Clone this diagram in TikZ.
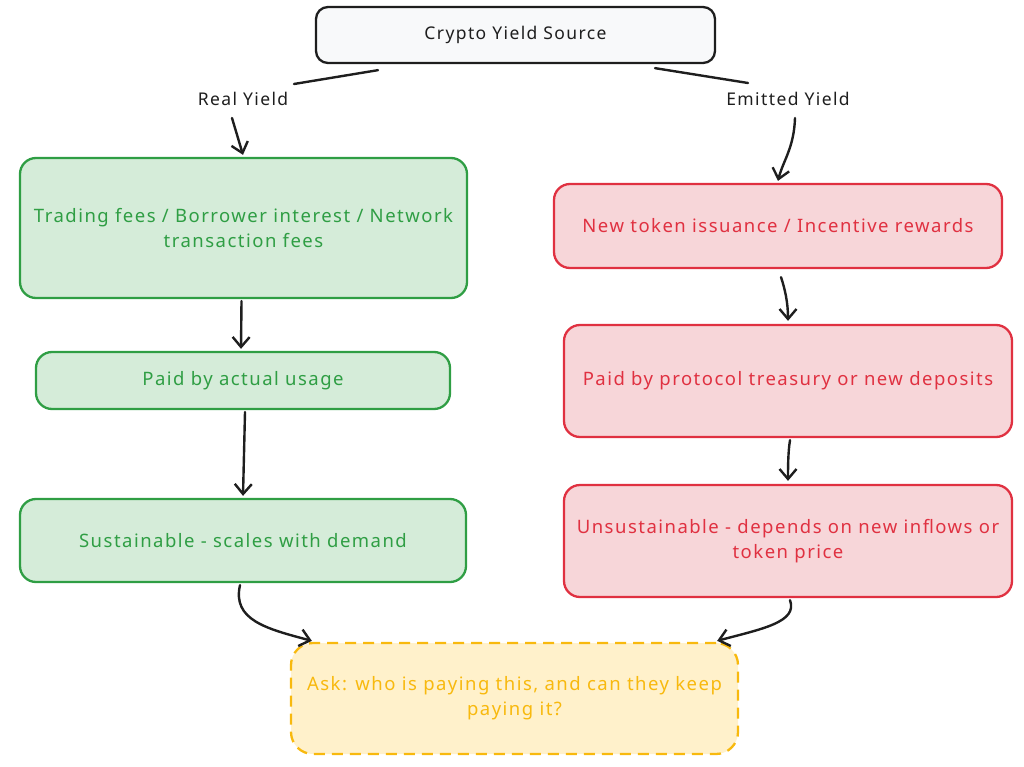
\documentclass[tikz,border=0pt]{standalone}
\usepackage{fontspec}
\setmainfont{Noto Sans}[LetterSpace=8]
\usetikzlibrary{arrows.meta}
\definecolor{ink}{HTML}{1E1E1E}
\definecolor{topfill}{HTML}{F8F9FA}
\definecolor{gstroke}{HTML}{2F9E44}
\definecolor{gfill}{HTML}{D5ECD9}
\definecolor{rstroke}{HTML}{E03141}
\definecolor{rfill}{HTML}{F7D6D9}
\definecolor{ystroke}{HTML}{F8B90E}
\definecolor{yfill}{HTML}{FFF1CB}
\begin{document}
\begin{tikzpicture}[x=1pt,y=-1pt,
  box/.style={draw, rounded corners=16pt, line width=2.3pt, align=center, inner sep=0pt,
    font=\fontsize{18.5}{25}\selectfont},
  topbox/.style={box, draw=ink, fill=topfill, text=ink, rounded corners=12pt, font=\fontsize{17.5}{25}\selectfont},
  greenbox/.style={box, draw=gstroke, fill=gfill, text=gstroke},
  redbox/.style={box, draw=rstroke, fill=rfill, text=rstroke},
  askbox/.style={box, draw=ystroke, fill=yfill, text=ystroke, dashed, dash pattern=on 11pt off 7pt, rounded corners=22pt},
  lbl/.style={text=ink, inner sep=2pt, font=\fontsize{17.5}{20}\selectfont},
  plainline/.style={draw=ink, line width=2.4pt, line cap=round},
  conn/.style={draw=ink, line width=2.4pt, line cap=round, line join=round,
    -{Straight Barb[length=10pt,width=17pt,line width=2.4pt]}}
]
\useasboundingbox (0,0) rectangle (1024,767);

\node[topbox, minimum width=399pt, minimum height=56pt] (top) at (515.5,35) {Crypto Yield Source};

\node[lbl] (rl) at (243,99) {Real Yield};
\node[lbl] (el) at (788,99) {Emitted Yield};

\node[greenbox, minimum width=447pt, minimum height=140pt] (g1) at (243.5,228)
  {Trading fees / Borrower interest / Network\\transaction fees};
\node[greenbox, minimum width=414pt, minimum height=57pt] (g2) at (243,380.5) {Paid by actual usage};
\node[greenbox, minimum width=446pt, minimum height=83pt] (g3) at (243,540.5) {Sustainable - scales with demand};

\node[redbox, minimum width=448pt, minimum height=84pt] (r1) at (778,226) {New token issuance / Incentive rewards};
\node[redbox, minimum width=448pt, minimum height=112pt] (r2) at (788,381) {Paid by protocol treasury or new deposits};
\node[redbox, minimum width=448pt, minimum height=112pt] (r3) at (788,541)
  {Unsustainable - depends on new inflows or\\token price};

\node[askbox, minimum width=447pt, minimum height=111pt] (ask) at (514.5,698.5)
  {Ask: who is paying this, and can they keep\\paying it?};

% top to labels
\draw[plainline] ([shift={(-137.5,6)}]top.south) -- ([shift={(51,-15)}]rl.center);
\draw[conn] ([shift={(-11,19)}]rl.center) -- ([shift={(-0.5,-2)}]g1.north);
\draw[plainline] ([shift={(139.5,4)}]top.south) -- ([shift={(-40,-16)}]el.center);
\draw[conn] ([shift={(7,19)}]el.center) .. controls +(-1,30) and +(5,-20) .. ([shift={(0,-2)}]r1.north);

% left column
\draw[conn] ([shift={(-2,2)}]g1.south) -- ([shift={(-2,-2)}]g2.north);
\draw[conn] ([shift={(2,2)}]g2.south) -- ([shift={(0,-2)}]g3.north);
\draw[conn] ([shift={(-3,2)}]g3.south) .. controls +(-8,35) and +(-45,-12) .. ([shift={(22,-1)}]ask.north west);

% right column
\draw[conn] ([shift={(3,8)}]r1.south) .. controls +(4,12) and +(0,-18) .. ([shift={(0,-3)}]r2.north);
\draw[conn] ([shift={(2,2)}]r2.south) .. controls +(-2,12) and +(0,-12) .. ([shift={(0,-3)}]r3.north);
\draw[conn] ([shift={(2,2)}]r3.south) .. controls +(8,22) and +(45,-12) .. ([shift={(-22,-1)}]ask.north east);
\end{tikzpicture}
\end{document}
